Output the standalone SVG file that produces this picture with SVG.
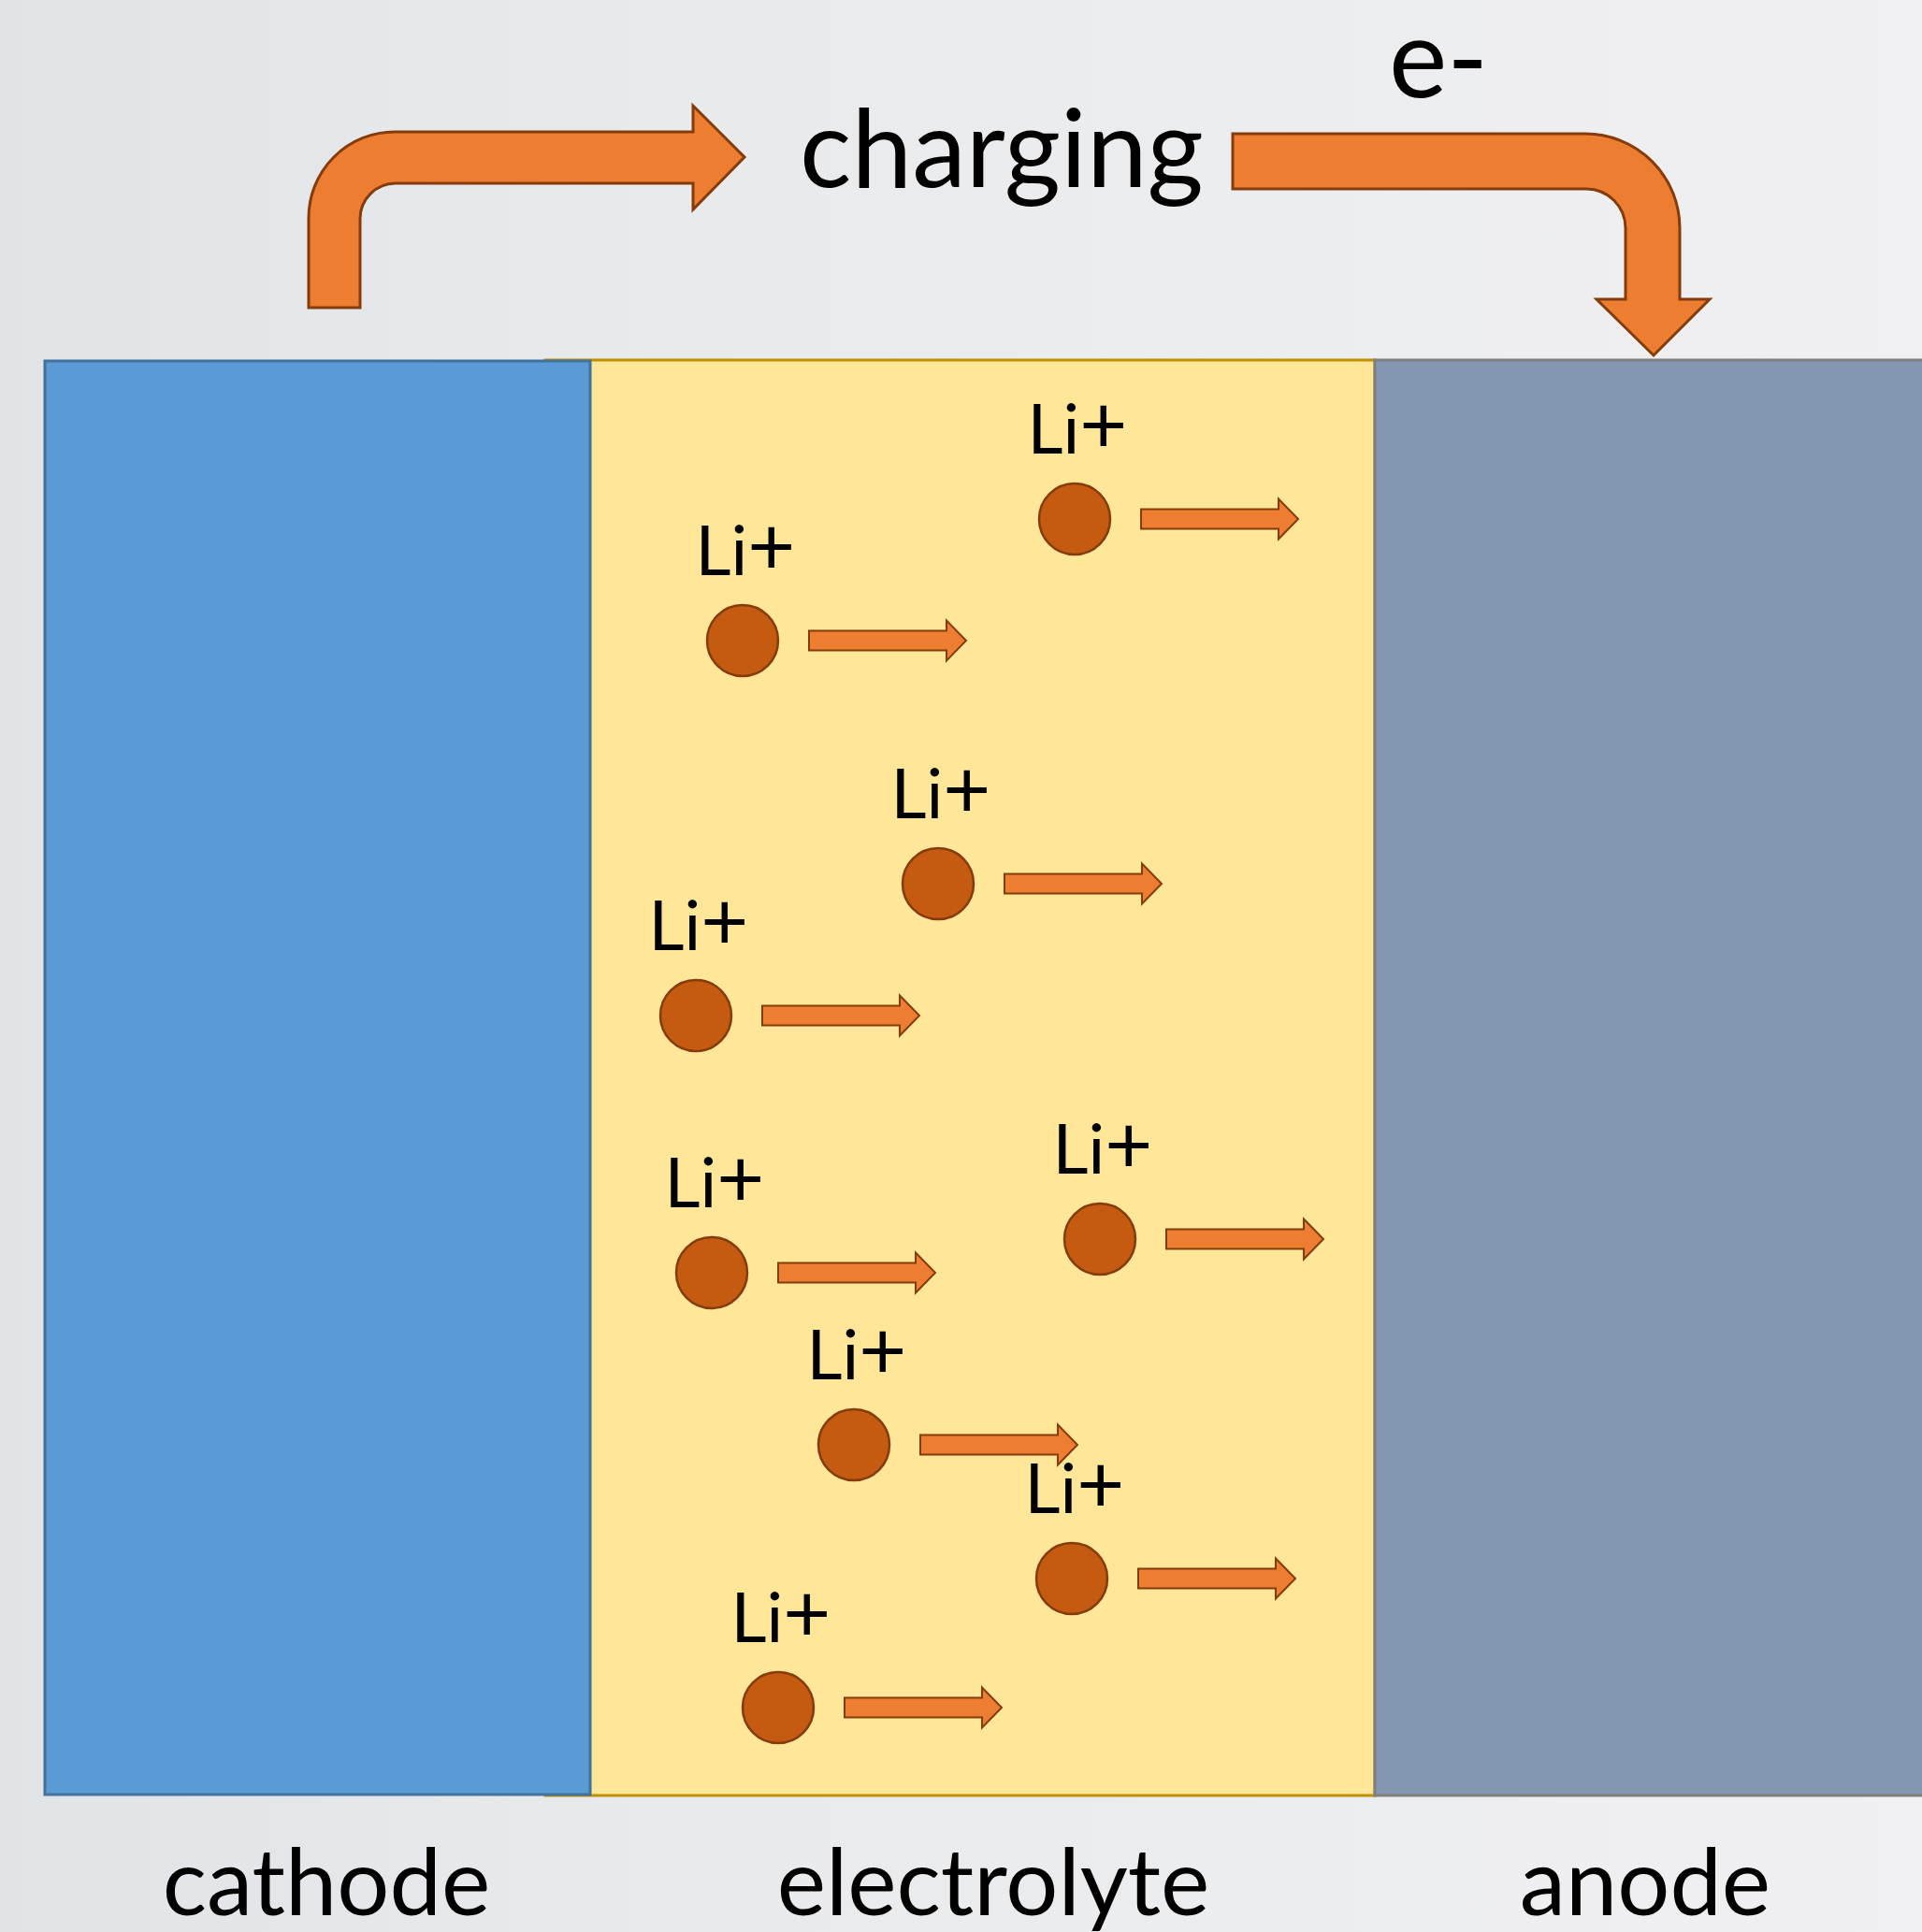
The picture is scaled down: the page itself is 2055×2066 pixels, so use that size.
<svg xmlns="http://www.w3.org/2000/svg" width="2055" height="2066" viewBox="0 0 2055 2066">
<defs>
<linearGradient id="bg" x1="0" y1="0" x2="1" y2="0">
<stop offset="0" stop-color="#e1e4e7"/>
<stop offset="0.35" stop-color="#e8eaec"/>
<stop offset="1" stop-color="#f0f0f2"/>
</linearGradient>
<style>
.lbl{font-family:Lato,"Liberation Sans",sans-serif;fill:#000;text-anchor:middle}
.big{font-size:116px}
.bot{font-size:99px}
.li{font-size:74px}
.pl{font-size:88px}
.ion{fill:#c55a11;stroke:#843c0c;stroke-width:2.5}
.arr{fill:#ed7d31;stroke:#843c0c;stroke-width:2}
.bend{fill:#ed7d31;stroke:#843c0c;stroke-width:3}
</style>
<g id="ionshape">
<circle class="ion" cx="0" cy="0" r="38"/>
<path class="arr" d="M71,-10.5 H218 V-21.5 L239,0 L218,21.5 V10.5 H71 Z"/>
</g>
</defs>
<rect x="0" y="0" width="2055" height="2066" fill="url(#bg)"/>

<g id="electrolyte">
<rect x="583" y="385" width="887" height="1535" fill="#ffe699" stroke="#bf9000" stroke-width="3"/>
</g>
<g id="cathode">
<rect x="48" y="386" width="583" height="1533" fill="#5b9bd5" stroke="#41719c" stroke-width="3"/>
</g>
<g id="anode">
<rect x="1470" y="385" width="600" height="1535" fill="#8497b0" stroke="#7f7f7f" stroke-width="3"/>
</g>

<g id="connectors">
<path class="bend" d="M330,329 V233 A92,92 0 0 1 422,141 H741 V113 L796,168 L741,224 V196 H423 A38,38 0 0 0 385,234 V329 Z"/>
<path class="bend" d="M1318,143 H1695 A101,101 0 0 1 1796,244 V320 H1828 L1768,380 L1707,320 H1738 V244 A42,42 0 0 0 1696,202 H1318 Z"/>
</g>

<g id="ion1"><use href="#ionshape" x="1149" y="555"/><text class="lbl li" x="1152" y="485">Li<tspan class="pl">+</tspan></text></g>
<g id="ion2"><use href="#ionshape" x="794" y="685"/><text class="lbl li" x="797" y="615">Li<tspan class="pl">+</tspan></text></g>
<g id="ion3"><use href="#ionshape" x="1003" y="945"/><text class="lbl li" x="1006" y="875">Li<tspan class="pl">+</tspan></text></g>
<g id="ion4"><use href="#ionshape" x="744" y="1086"/><text class="lbl li" x="747" y="1016">Li<tspan class="pl">+</tspan></text></g>
<g id="ion5"><use href="#ionshape" x="1176" y="1325"/><text class="lbl li" x="1179" y="1255">Li<tspan class="pl">+</tspan></text></g>
<g id="ion6"><use href="#ionshape" x="761" y="1361"/><text class="lbl li" x="764" y="1291">Li<tspan class="pl">+</tspan></text></g>
<g id="ion7"><use href="#ionshape" x="913" y="1545"/><text class="lbl li" x="916" y="1475">Li<tspan class="pl">+</tspan></text></g>
<g id="ion8"><use href="#ionshape" x="1146" y="1688"/><text class="lbl li" x="1149" y="1618">Li<tspan class="pl">+</tspan></text></g>
<g id="ion9"><use href="#ionshape" x="832" y="1826"/><text class="lbl li" x="835" y="1756">Li<tspan class="pl">+</tspan></text></g>

<g id="labels">
<text class="lbl big" x="1071" y="200">charging</text>
<text class="lbl" style="font-size:118px" x="1538" y="104">e-</text>
<text class="lbl bot" x="349" y="2048">cathode</text>
<text class="lbl bot" x="1062" y="2048">electrolyte</text>
<text class="lbl bot" x="1759" y="2048">anode</text>
</g>
</svg>
